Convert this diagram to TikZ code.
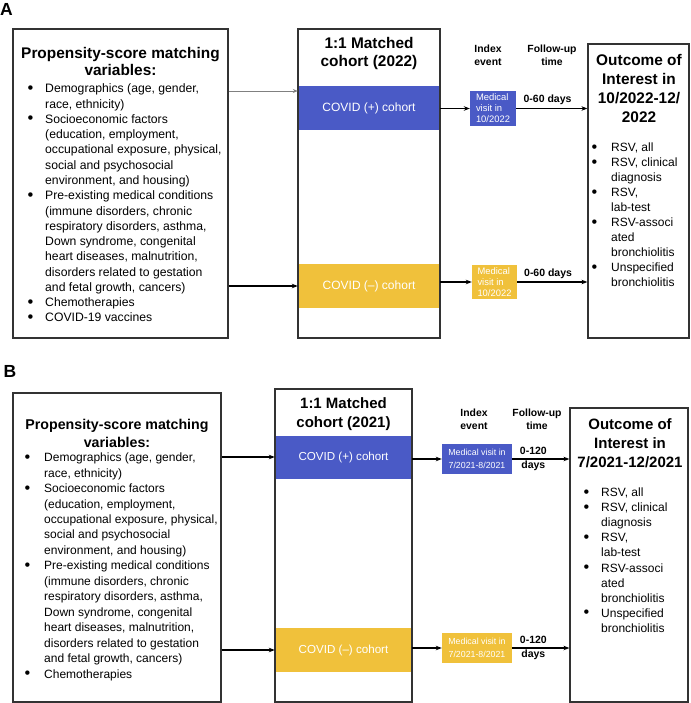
\documentclass[tikz,border=0pt]{standalone}
\usepackage{fontspec}
\usepackage{graphicx}
\setmainfont{Liberation Sans}
\usetikzlibrary{arrows.meta}
\definecolor{cblue}{HTML}{4A5AC6}
\definecolor{cyell}{HTML}{F0C13B}
\definecolor{edgec}{HTML}{333333}
\newcommand{\bl}[1]{\makebox[#1][l]{\raisebox{-0.4pt}{\scalebox{1.35}{\textbullet}}}}
\begin{document}
\begin{tikzpicture}[x=1pt,y=-1pt,
  frame/.style={draw=edgec,line width=1.2pt,fill=none,inner sep=0},
  band/.style={fill=#1,draw=none,inner sep=0,text=white},
  smallbox/.style={fill=#1,draw=none,inner sep=0,text=white},
  arr/.style={-{Stealth[length=6pt,width=4.5pt]},line width=1.1pt,black},
  panel/.style={font=\bfseries\fontsize{17.5}{20}\selectfont,inner sep=0,anchor=base west},
  plain/.style={inner sep=0},
  dayA/.style={above=3pt,font=\bfseries\fontsize{10.5}{12}\selectfont,text=black,inner sep=0},
  dayB/.style={align=center,font=\bfseries\fontsize{10.5}{14}\selectfont,text=black,inner sep=0}
]
\useasboundingbox (0,0) rectangle (690,703);

% ================= Panel A =================
\node[panel] (labA) at (0,16) {A};

% bands
\node[band=cblue,minimum width=142,minimum height=44,font=\fontsize{12}{14}\selectfont] (bA) at (369,108) {COVID (+) cohort};
\node[band=cyell,minimum width=142,minimum height=44,font=\fontsize{12}{14}\selectfont] (nA) at (369,286) {COVID (--) cohort};

% frames
\node[frame,minimum width=215,minimum height=309] (LA) at (120.5,183.5) {};
\node[frame,minimum width=142,minimum height=309] (MA) at (369,183.5) {};
\node[frame,minimum width=101,minimum height=294] (OA) at (638.5,191) {};

% left box text
\node[plain,align=center,font=\bfseries\fontsize{15.4}{17}\selectfont] (LAt) at (120.5,61.5) {Propensity-score matching\\variables:};
\node[plain,align=left,anchor=base west,font=\fontsize{12.2}{15.27}\selectfont] (LAl) at (27.5,321.9) {%
\bl{17.5pt}Demographics (age, gender,\\
\hspace*{17.5pt}race, ethnicity)\\
\bl{17.5pt}Socioeconomic factors\\
\hspace*{17.5pt}(education, employment,\\
\hspace*{17.5pt}occupational exposure, physical,\\
\hspace*{17.5pt}social and psychosocial\\
\hspace*{17.5pt}environment, and housing)\\
\bl{17.5pt}Pre-existing medical conditions\\
\hspace*{17.5pt}(immune disorders, chronic\\
\hspace*{17.5pt}respiratory disorders, asthma,\\
\hspace*{17.5pt}Down syndrome, congenital\\
\hspace*{17.5pt}heart diseases, malnutrition,\\
\hspace*{17.5pt}disorders related to gestation\\
\hspace*{17.5pt}and fetal growth, cancers)\\
\bl{17.5pt}Chemotherapies\\
\bl{17.5pt}COVID-19 vaccines};

% middle title
\node[plain,align=center,font=\bfseries\fontsize{15.4}{18}\selectfont] (MAt) at (369,54) {1:1 Matched\\cohort (2022)};

% headers
\node[plain,align=center,font=\bfseries\fontsize{10.4}{13}\selectfont] (hA1) at (488,55.5) {Index\\event};
\node[plain,align=center,font=\bfseries\fontsize{10.4}{13}\selectfont] (hA2) at (552,55.5) {Follow-up\\time};

% small boxes
\node[smallbox=cblue,minimum width=46,minimum height=35,align=left,font=\fontsize{9.4}{11}\selectfont] (sA) at (493,108.5) {Medical\\visit in\\10/2022};
\node[smallbox=cyell,minimum width=45,minimum height=34,align=left,font=\fontsize{9.4}{11}\selectfont] (syA) at (494.5,282) {Medical\\visit in\\10/2022};

% outcome text
\node[plain,align=center,font=\bfseries\fontsize{15.4}{19}\selectfont] (OAt) at (639,88.5) {Outcome of\\Interest in\\10/2022-12/\\2022};
\node[plain,align=left,anchor=base west,font=\fontsize{12}{15}\selectfont] (OAl) at (591.5,286.8) {%
\bl{19.5pt}RSV, all\\
\bl{19.5pt}RSV, clinical\\
\hspace*{19.5pt}diagnosis\\
\bl{19.5pt}RSV,\\
\hspace*{19.5pt}lab-test\\
\bl{19.5pt}RSV-associ\\
\hspace*{19.5pt}ated\\
\hspace*{19.5pt}bronchiolitis\\
\bl{19.5pt}Unspecified\\
\hspace*{19.5pt}bronchiolitis};

% connectors A
\coordinate (rA1) at (0,91);
\draw[-{Stealth[length=5pt,width=4pt]},line width=0.8pt,gray] (LA.east |- rA1) -- (bA.west |- rA1);
\draw[arr] (LA.east |- nA.west) -- (nA.west);
\draw[arr] (sA.west -| bA.east) -- (sA.west);
\draw[arr] (sA.east) -- (sA.east -| OA.west) node[pos=0.44,dayA] (dA1) {0-60 days};
\draw[arr] (syA.west -| nA.east) -- (syA.west);
\draw[arr] (syA.east) -- (syA.east -| OA.west) node[pos=0.44,dayA] (dA2) {0-60 days};

% ================= Panel B =================
\node[panel] (labB) at (3.5,377) {B};

\node[band=cblue,minimum width=137,minimum height=43,font=\fontsize{11.6}{14}\selectfont] (bB) at (343.5,457.5) {COVID (+) cohort};
\node[band=cyell,minimum width=137,minimum height=44,font=\fontsize{11.6}{14}\selectfont] (nB) at (343.5,650) {COVID (--) cohort};

\node[frame,minimum width=208,minimum height=309] (LB) at (117,547.5) {};
\node[frame,minimum width=137,minimum height=313] (MB) at (343.5,545.5) {};
\node[frame,minimum width=118,minimum height=294] (OB) at (629,555) {};

\node[plain,align=center,font=\bfseries\fontsize{14.2}{18}\selectfont] (LBt) at (117,433) {Propensity-score matching\\variables:};
\node[plain,align=left,anchor=base west,font=\fontsize{12}{15.45}\selectfont] (LBl) at (24.5,678) {%
\bl{19.5pt}Demographics (age, gender,\\
\hspace*{19.5pt}race, ethnicity)\\
\bl{19.5pt}Socioeconomic factors\\
\hspace*{19.5pt}(education, employment,\\
\hspace*{19.5pt}occupational exposure, physical,\\
\hspace*{19.5pt}social and psychosocial\\
\hspace*{19.5pt}environment, and housing)\\
\bl{19.5pt}Pre-existing medical conditions\\
\hspace*{19.5pt}(immune disorders, chronic\\
\hspace*{19.5pt}respiratory disorders, asthma,\\
\hspace*{19.5pt}Down syndrome, congenital\\
\hspace*{19.5pt}heart diseases, malnutrition,\\
\hspace*{19.5pt}disorders related to gestation\\
\hspace*{19.5pt}and fetal growth, cancers)\\
\bl{19.5pt}Chemotherapies};

\node[plain,align=center,font=\bfseries\fontsize{15}{19}\selectfont] (MBt) at (343.5,414.5) {1:1 Matched\\cohort (2021)};

\node[plain,align=center,font=\bfseries\fontsize{10.4}{13}\selectfont] (hB1) at (474,419.5) {Index\\event};
\node[plain,align=center,font=\bfseries\fontsize{10.4}{13}\selectfont] (hB2) at (537,419.5) {Follow-up\\time};

\node[smallbox=cblue,minimum width=70,minimum height=30,align=center,font=\fontsize{8.8}{13}\selectfont] (sB) at (477,459) {Medical visit in\\7/2021-8/2021};
\node[smallbox=cyell,minimum width=70,minimum height=30,align=center,font=\fontsize{8.8}{13}\selectfont] (syB) at (477,648) {Medical visit in\\7/2021-8/2021};

\node[plain,align=center,font=\bfseries\fontsize{15}{19}\selectfont] (OBt) at (630,443) {Outcome of\\Interest in\\7/2021-12/2021};
\node[plain,align=left,anchor=base west,font=\fontsize{12}{15.05}\selectfont] (OBl) at (583.5,632.2) {%
\bl{17.5pt}RSV, all\\
\bl{17.5pt}RSV, clinical\\
\hspace*{17.5pt}diagnosis\\
\bl{17.5pt}RSV,\\
\hspace*{17.5pt}lab-test\\
\bl{17.5pt}RSV-associ\\
\hspace*{17.5pt}ated\\
\hspace*{17.5pt}bronchiolitis\\
\bl{17.5pt}Unspecified\\
\hspace*{17.5pt}bronchiolitis};

% connectors B
\coordinate (rB1) at (0,457);
\draw[arr] (LB.east |- rB1) -- (bB.west |- rB1);
\draw[arr] (LB.east |- nB.west) -- (nB.west);
\draw[arr] (sB.west -| bB.east) -- (sB.west);
\draw[arr] (sB.east) -- (sB.east -| OB.west) node[pos=0.37,dayB] (dB1) {0-120\\days};
\draw[arr] (syB.west -| nB.east) -- (syB.west);
\draw[arr] (syB.east) -- (syB.east -| OB.west) node[pos=0.37,dayB] (dB2) {0-120\\days};
\end{tikzpicture}
\end{document}
